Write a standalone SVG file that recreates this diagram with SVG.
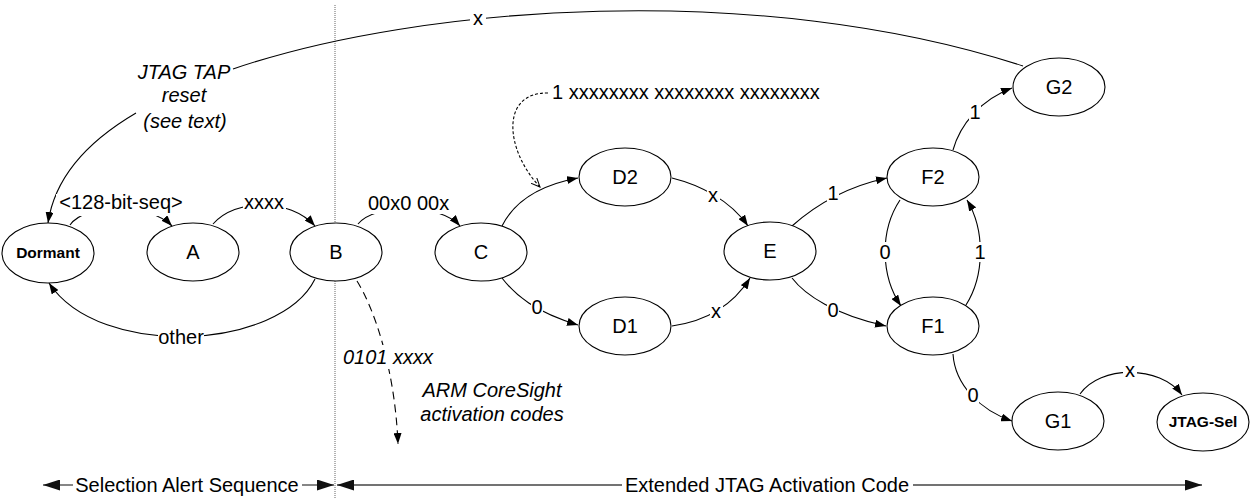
<svg xmlns="http://www.w3.org/2000/svg" width="1250" height="498" viewBox="0 0 1250 498">
<style>
.n{fill:#fff;stroke:#000;stroke-width:1.1}
.t{font-family:"Liberation Sans",Arial,sans-serif;font-size:20px;fill:#000}
.tb{font-family:"Liberation Sans",Arial,sans-serif;font-size:15.5px;font-weight:bold;fill:#000}
.i{font-style:italic}
.c{fill:none;stroke:#000;stroke-width:1.1}
.bg{fill:#fff}
.dim{fill:none;stroke:#444;stroke-width:1.3}
</style>
<defs>
<marker id="ar" markerUnits="userSpaceOnUse" markerWidth="11" markerHeight="8" refX="11" refY="4" orient="auto"><path d="M0,0 L11,4 L0,8 z" fill="#000"/></marker>
<marker id="op" markerUnits="userSpaceOnUse" markerWidth="10" markerHeight="9" refX="9" refY="4.5" orient="auto"><path d="M0,0.5 L9,4.5 L0,8.5" fill="none" stroke="#000" stroke-width="1"/></marker>
<marker id="dm" markerUnits="userSpaceOnUse" markerWidth="17" markerHeight="11" refX="17" refY="5.5" orient="auto"><path d="M0,0 L17,5.5 L0,11 z" fill="#111"/></marker>
</defs>

<line x1="335" y1="5" x2="335" y2="498" stroke="#666" stroke-width="1" stroke-dasharray="1,1"/>

<g id="connectors">
<path class="c" d="M233,69 C420,5 760,-20 1023,66"/>
<path class="c" d="M136,113 C90,140 55,175 48,223" marker-end="url(#ar)"/>
<path class="c" d="M70,225 C85,203 150,203 172,226" marker-end="url(#ar)"/>
<path class="c" d="M213,224 C235,198 290,198 315,226" marker-end="url(#ar)"/>
<path class="c" d="M358,224 C375,203 440,203 460,226" marker-end="url(#ar)"/>
<path class="c" d="M315,279 C280,350 100,360 49,283" marker-end="url(#ar)"/>
<path class="c" d="M357,281 C375,310 395,370 398,444" stroke-dasharray="8,5" marker-end="url(#ar)"/>
<path class="c" d="M548,93 C500,92 505,150 540,187" stroke-dasharray="3,2" marker-end="url(#op)"/>
<path class="c" d="M502,226 C515,200 540,185 578,178" marker-end="url(#ar)"/>
<path class="c" d="M502,278 C515,295 535,312 578,325" marker-end="url(#ar)"/>
<path class="c" d="M672,178 C700,185 730,200 748,226" marker-end="url(#ar)"/>
<path class="c" d="M672,326 C700,322 730,310 750,278" marker-end="url(#ar)"/>
<path class="c" d="M792,226 C810,210 840,188 887,178" marker-end="url(#ar)"/>
<path class="c" d="M792,278 C805,295 835,315 886,326" marker-end="url(#ar)"/>
<path class="c" d="M900,200 C880,230 880,275 901,306" marker-end="url(#ar)"/>
<path class="c" d="M966,305 C985,275 985,230 967,200" marker-end="url(#ar)"/>
<path class="c" d="M953,150 C960,125 980,100 1012,88" marker-end="url(#ar)"/>
<path class="c" d="M953,354 C955,385 980,410 1012,421" marker-end="url(#ar)"/>
<path class="c" d="M1080,394 C1100,365 1160,365 1182,395" marker-end="url(#ar)"/>

<!-- label backgrounds -->
<rect class="bg" x="470" y="12" width="16" height="16"/>
<rect class="bg" x="56" y="194" width="130" height="22"/>
<rect class="bg" x="243" y="194" width="43" height="20"/>
<rect class="bg" x="366" y="194" width="85" height="20"/>
<rect class="bg" x="158" y="330" width="46" height="18"/>
<rect class="bg" x="340" y="345" width="96" height="24"/>
<rect class="bg" x="531" y="298" width="12" height="19"/>
<rect class="bg" x="707" y="190" width="13" height="14"/>
<rect class="bg" x="710" y="306" width="13" height="14"/>
<rect class="bg" x="827" y="184" width="12" height="19"/>
<rect class="bg" x="827" y="301" width="12" height="19"/>
<rect class="bg" x="879" y="242" width="12" height="20"/>
<rect class="bg" x="974" y="242" width="12" height="20"/>
<rect class="bg" x="969" y="103" width="12" height="19"/>
<rect class="bg" x="967" y="386" width="12" height="19"/>
<rect class="bg" x="1123" y="365" width="14" height="14"/>

<text class="t" x="478" y="25" text-anchor="middle">x</text>
<text class="t i" x="184" y="79" text-anchor="middle">JTAG TAP</text>
<text class="t i" x="184" y="102" text-anchor="middle">reset</text>
<text class="t i" x="185" y="128" text-anchor="middle">(see text)</text>
<text class="t" x="121" y="209" text-anchor="middle">&lt;128-bit-seq&gt;</text>
<text class="t" x="264" y="209" text-anchor="middle">xxxx</text>
<text class="t" x="368" y="210">00x0 00x</text>
<text class="t" x="181" y="344" text-anchor="middle">other</text>
<text class="t i" x="343" y="364">0101 xxxx</text>
<text class="t i" x="492" y="397" text-anchor="middle">ARM CoreSight</text>
<text class="t i" x="492" y="421" text-anchor="middle">activation codes</text>
<text class="t" x="552" y="99">1 xxxxxxxx xxxxxxxx xxxxxxxx</text>
<text class="t" x="537" y="314" text-anchor="middle">0</text>
<text class="t" x="713" y="202" text-anchor="middle">x</text>
<text class="t" x="716" y="318" text-anchor="middle">x</text>
<text class="t" x="833" y="200" text-anchor="middle">1</text>
<text class="t" x="833" y="317" text-anchor="middle">0</text>
<text class="t" x="885" y="259" text-anchor="middle">0</text>
<text class="t" x="980" y="259" text-anchor="middle">1</text>
<text class="t" x="975" y="119" text-anchor="middle">1</text>
<text class="t" x="973" y="402" text-anchor="middle">0</text>
<text class="t" x="1130" y="377" text-anchor="middle">x</text>
</g>

<g id="node-dormant"><ellipse class="n" cx="48" cy="253" rx="46" ry="30"/><text class="tb" x="48" y="258" text-anchor="middle">Dormant</text></g>
<g id="node-a"><ellipse class="n" cx="193" cy="252" rx="46" ry="29"/><text class="t" x="193" y="259" text-anchor="middle">A</text></g>
<g id="node-b"><ellipse class="n" cx="336" cy="252" rx="46" ry="29"/><text class="t" x="336" y="259" text-anchor="middle">B</text></g>
<g id="node-c"><ellipse class="n" cx="481" cy="252" rx="46" ry="29"/><text class="t" x="481" y="259" text-anchor="middle">C</text></g>
<g id="node-d2"><ellipse class="n" cx="625" cy="177" rx="46" ry="29"/><text class="t" x="625" y="184" text-anchor="middle">D2</text></g>
<g id="node-d1"><ellipse class="n" cx="625" cy="326" rx="46" ry="29"/><text class="t" x="625" y="333" text-anchor="middle">D1</text></g>
<g id="node-e"><ellipse class="n" cx="770" cy="251" rx="46" ry="29"/><text class="t" x="770" y="258" text-anchor="middle">E</text></g>
<g id="node-f2"><ellipse class="n" cx="933" cy="177" rx="46" ry="29"/><text class="t" x="933" y="184" text-anchor="middle">F2</text></g>
<g id="node-f1"><ellipse class="n" cx="933" cy="326" rx="46" ry="29"/><text class="t" x="933" y="333" text-anchor="middle">F1</text></g>
<g id="node-g2"><ellipse class="n" cx="1059" cy="87" rx="46" ry="29"/><text class="t" x="1059" y="94" text-anchor="middle">G2</text></g>
<g id="node-g1"><ellipse class="n" cx="1058" cy="421" rx="46" ry="29"/><text class="t" x="1058" y="428" text-anchor="middle">G1</text></g>
<g id="node-jtagsel"><ellipse class="n" cx="1203" cy="422" rx="46" ry="29"/><text class="tb" x="1203" y="427" text-anchor="middle">JTAG-Sel</text></g>

<g id="dimensions">
<line class="dim" x1="73" y1="485" x2="43" y2="485" marker-end="url(#dm)"/>
<line class="dim" x1="302" y1="485" x2="334" y2="485" marker-end="url(#dm)"/>
<text class="t" x="187" y="492" text-anchor="middle">Selection Alert Sequence</text>
<line class="dim" x1="622" y1="485" x2="337" y2="485" marker-end="url(#dm)"/>
<line class="dim" x1="913" y1="485" x2="1202" y2="485" marker-end="url(#dm)"/>
<text class="t" x="767" y="492" text-anchor="middle">Extended JTAG Activation Code</text>
</g>
</svg>
